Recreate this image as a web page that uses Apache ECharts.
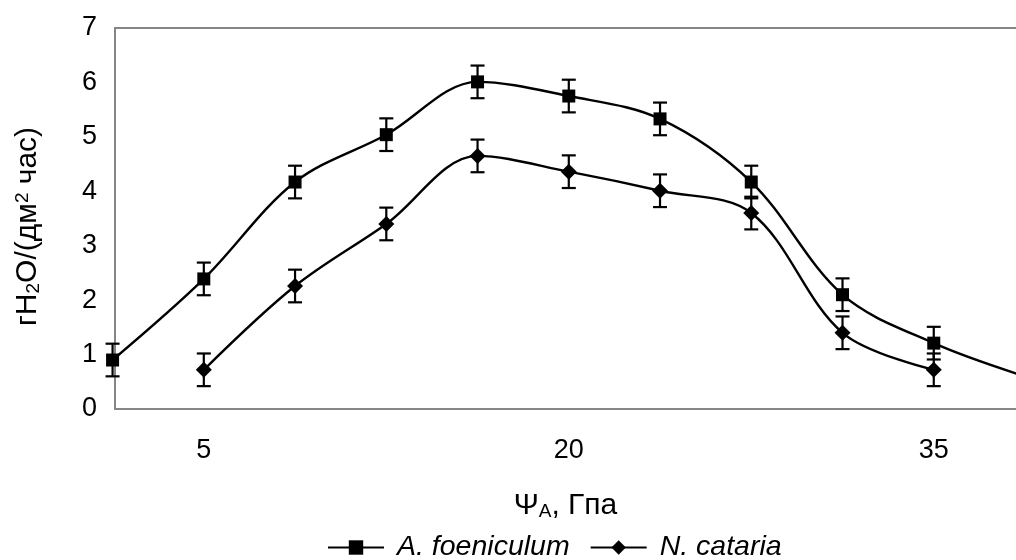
<!DOCTYPE html>
<html>
<head>
<meta charset="utf-8">
<script src="https://cdn.jsdelivr.net/npm/echarts@6/dist/echarts.min.js"></script>
<style>
  html, body { margin: 0; padding: 0; background: #fff; }
  #chart { width: 1016px; height: 560px; }
</style>
</head>
<body>
<div id="chart"></div>
<script>
// Water potential of the air, ΨA (GPa)
const psiValues = [1.25, 5, 8.75, 12.5, 16.25, 20, 23.75, 27.5, 31.25, 35, 38.75];
const xTickValues = [5, 20, 35];

// Transpiration rate, g H2O / (dm² · h)
const foeniculum = [0.90, 2.39, 4.17, 5.04, 6.01, 5.75, 5.33, 4.17, 2.10, 1.21, 0.60];
const cataria = [null, 0.72, 2.26, 3.40, 4.65, 4.36, 4.01, 3.60, 1.40, 0.72, null];

// Error bar half-widths
const foeniculumErr = [0.3, 0.3, 0.3, 0.3, 0.3, 0.3, 0.3, 0.3, 0.3, 0.3, 0.3];
const catariaErr = [0.3, 0.3, 0.3, 0.3, 0.3, 0.3, 0.3, 0.3, 0.3, 0.3, 0.3];

const FONT = '"Liberation Sans", Arial, sans-serif';
const X_MIN = 1.35;
const X_MAX = 38.38;
const SMOOTH = 0.34;

function pairs(values) {
  return psiValues.map((x, i) => [x, values[i]]);
}
function errorRanges(values, errs) {
  const out = [];
  psiValues.forEach((x, i) => {
    if (values[i] != null) out.push([x, values[i] - errs[i], values[i] + errs[i]]);
  });
  return out;
}
function renderErrorBar(params, api) {
  const x = api.value(0);
  const lo = api.coord([x, api.value(1)]);
  const hi = api.coord([x, api.value(2)]);
  const half = 7;
  const style = { stroke: '#000', lineWidth: 2.2 };
  return {
    type: 'group',
    children: [
      { type: 'line', shape: { x1: lo[0], y1: lo[1], x2: hi[0], y2: hi[1] }, style },
      { type: 'line', shape: { x1: lo[0] - half, y1: lo[1], x2: lo[0] + half, y2: lo[1] }, style },
      { type: 'line', shape: { x1: hi[0] - half, y1: hi[1], x2: hi[0] + half, y2: hi[1] }, style }
    ]
  };
}

const chart = echarts.init(document.getElementById('chart'), null, { renderer: 'canvas' });

const axisGray = { color: '#868686', width: 2 };

const option = {
  animation: false,
  backgroundColor: '#fff',
  textStyle: { fontFamily: FONT },
  grid: { left: 115, top: 28, bottom: 151, right: 0, containLabel: false },
  legend: {
    data: ['A. foeniculum', 'N. cataria'],
    left: 322,
    top: 528,
    itemWidth: 56,
    itemHeight: 18,
    itemGap: 20,
    textStyle: { fontFamily: FONT, fontSize: 28.5, fontStyle: 'italic', color: '#000', padding: [0, 0, 0, 8] }
  },
  xAxis: [
    {
      type: 'value',
      min: X_MIN,
      max: X_MAX,
      splitLine: { show: false },
      axisTick: { show: false },
      axisLine: { show: true, onZero: false, lineStyle: axisGray },
      axisLabel: {
        customValues: xTickValues,
        fontFamily: FONT, fontSize: 27, color: '#000', margin: 28
      },
      name: '{n|Ψ}{sub|A}{n|, Гпа}',
      nameLocation: 'middle',
      nameGap: 82,
      nameTextStyle: {
        rich: {
          n: { fontFamily: FONT, fontSize: 30, color: '#000' },
          sub: { fontFamily: FONT, fontSize: 19, color: '#000', verticalAlign: 'bottom' }
        }
      }
    },
    {
      // top frame line of the plot area
      type: 'value',
      position: 'top',
      min: X_MIN,
      max: X_MAX,
      splitLine: { show: false },
      axisTick: { show: false },
      axisLabel: { show: false },
      axisLine: { show: true, onZero: false, lineStyle: axisGray }
    }
  ],
  yAxis: {
    type: 'value',
    min: 0,
    max: 7,
    interval: 1,
    splitLine: { show: false },
    axisTick: { show: false },
    axisLine: { show: true, onZero: false, lineStyle: axisGray },
    axisLabel: { fontFamily: FONT, fontSize: 27, color: '#000', margin: 18 },
    name: '{n|гH}{sub|2}{n|O/(дм}{sup|2}{n| час)}',
    nameLocation: 'middle',
    nameGap: 72,
    nameTextStyle: {
      padding: [0, 16, 0, 0],
      rich: {
        n: { fontFamily: FONT, fontSize: 30, color: '#000' },
        sub: { fontFamily: FONT, fontSize: 19, color: '#000', verticalAlign: 'bottom' },
        sup: { fontFamily: FONT, fontSize: 19, color: '#000', verticalAlign: 'top' }
      }
    }
  },
  series: [
    {
      name: 'A. foeniculum err',
      type: 'custom',
      renderItem: renderErrorBar,
      data: errorRanges(foeniculum, foeniculumErr),
      encode: { x: 0, y: [1, 2] },
      clip: false,
      z: 3
    },
    {
      name: 'N. cataria err',
      type: 'custom',
      renderItem: renderErrorBar,
      data: errorRanges(cataria, catariaErr),
      encode: { x: 0, y: [1, 2] },
      clip: false,
      z: 3
    },
    {
      name: 'A. foeniculum',
      type: 'line',
      data: pairs(foeniculum),
      smooth: SMOOTH,
      symbol: 'rect',
      symbolSize: 13,
      clip: false,
      lineStyle: { color: '#000', width: 2.4 },
      itemStyle: { color: '#000' },
      z: 4
    },
    {
      name: 'N. cataria',
      type: 'line',
      data: pairs(cataria),
      smooth: SMOOTH,
      connectNulls: false,
      symbol: 'diamond',
      symbolSize: 16,
      clip: false,
      lineStyle: { color: '#000', width: 2.4 },
      itemStyle: { color: '#000' },
      z: 4
    }
  ]
};

chart.setOption(option);
</script>
</body>
</html>
